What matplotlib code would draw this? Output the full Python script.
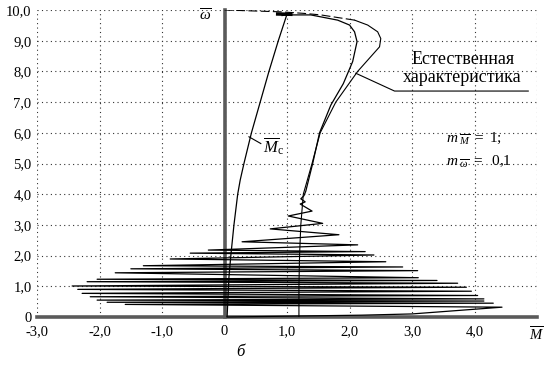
import matplotlib
matplotlib.use("Agg")
import matplotlib.pyplot as plt

plt.rcParams['font.family'] = 'serif'
plt.rcParams['font.serif'] = ['Liberation Serif', 'DejaVu Serif']
plt.rcParams['mathtext.fontset'] = 'custom'
plt.rcParams['mathtext.rm'] = 'Liberation Serif'
plt.rcParams['mathtext.it'] = 'Liberation Serif:italic'

# ---- data (M - torque, w - speed) ----
# load characteristic M_c
mc_M = [0.04, 0.07, 0.10, 0.15, 0.21, 0.25, 0.31, 0.43, 0.57, 0.71, 0.86, 1.00]
mc_w = [0.0, 1.3, 2.0, 3.0, 4.0, 4.46, 5.0, 6.0, 7.0, 8.0, 9.0, 9.87]

# natural (static) characteristic
nat_M = [1.19, 1.19, 1.20, 1.22, 1.26, 1.40, 1.53, 1.78, 2.13, 2.48, 2.50, 2.45, 2.29, 2.08]
nat_w = [0.0, 1.0, 2.0, 3.0, 4.0, 5.0, 6.0, 7.0, 8.0, 8.80, 9.07, 9.29, 9.51, 9.67]
# upper (dashed) part of natural characteristic
nat_top_M = [2.08, 1.54, 1.27, 0.90, 0.0]
nat_top_w = [9.67, 9.84, 9.89, 9.94, 10.0]

# dynamic characteristic: start-up oscillations, then rise to the working point
dyn_M = [0.04, 2.2, 3.0, 4.44, -1.59, 4.30, -1.88, 4.15, -2.04, 4.15, -2.15, 4.05,
         -2.28, 3.95, -2.35, 3.87, -2.44, 3.73, -2.20, 3.40, -2.04, 3.10, -1.75,
         3.09, -1.50, 2.85, -1.30, 2.58, -0.87, 2.39, -0.55, 2.25, -0.26, 2.13,
         0.28, 1.83, 0.73, 1.57, 1.02, 1.40, 1.21, 1.29,
         1.22, 1.27, 1.30, 1.41, 1.52, 1.70, 1.90, 2.05, 2.12, 2.08, 2.00, 1.81,
         1.38, 1.00, 0.92]
dyn_w = [0.0, 0.06, 0.10, 0.32, 0.41, 0.45, 0.48, 0.52, 0.55, 0.59, 0.66, 0.70,
         0.77, 0.84, 0.90, 0.97, 1.01, 1.10, 1.15, 1.19, 1.23, 1.28, 1.44,
         1.51, 1.57, 1.63, 1.67, 1.80, 1.89, 2.02, 2.08, 2.13, 2.18, 2.35,
         2.45, 2.68, 2.87, 3.05, 3.29, 3.45, 3.68, 3.75,
         3.85, 3.95, 4.10, 5.0, 6.0, 6.9, 7.6, 8.32, 8.97, 9.29, 9.51, 9.67,
         9.84, 9.84, 9.82]

# working point
wp_M = [0.85, 1.06]
wp_w = [9.87, 9.86]

x_ticks = [-3, -2, -1, 0, 1, 2, 3, 4, 5]
x_tick_labels = ['-3,0', '-2,0', '-1,0', '0', '1,0', '2,0', '3,0', '4,0', r'$\overline{M}$']
y_ticks = [0, 1, 2, 3, 4, 5, 6, 7, 8, 9, 10]
y_tick_labels = ['0', '1,0', '2,0', '3,0', '4,0', '5,0', '6,0', '7,0', '8,0', '9,0', '10,0']

fig = plt.figure(figsize=(5.46, 3.65), dpi=100)
ax = fig.add_axes([0.068, 0.1315, 0.9155, 0.8411])
ax.set_xlim(-3, 5)
ax.set_ylim(0, 10)

# dotted grid
for x in x_ticks:
    ax.axvline(x, color='#333333', lw=0.8, ls=(0, (1, 3)), zorder=1)
for y in y_ticks:
    ax.axhline(y, color='#333333', lw=0.8, ls=(0, (1, 3)), zorder=1)

# thick axes
ax.plot([0, 0], [0, 10], color='#5a5a5a', lw=2.6, zorder=2, clip_on=False)
ax.plot([-3, 5], [0, 0], color='#5a5a5a', lw=2.6, zorder=2, clip_on=False)

# curves
ax.plot(mc_M, mc_w, color='black', lw=0.9, zorder=3)
ax.plot(nat_M, nat_w, color='black', lw=0.8, zorder=3)
ax.plot(nat_top_M, nat_top_w, color='black', lw=0.8, ls=(0, (8, 3)), zorder=3)
ax.plot(dyn_M, dyn_w, color='black', lw=0.9, zorder=4, clip_on=False)
ax.plot(wp_M, wp_w, color='black', lw=2.5, zorder=5)

# annotations
ax.plot([2.10, 2.72, 4.86], [7.94, 7.36, 7.36], color='black', lw=0.8, zorder=3)
ax.text(3.82, 8.4, 'Естественная', ha='center', va='center', fontsize=13)
ax.text(3.80, 7.8, 'характеристика', ha='center', va='center', fontsize=13)

ax.plot([0.39, 0.58], [5.87, 5.65], color='black', lw=0.8, zorder=3)
ax.text(0.62, 5.55, r'$\overline{M}_{\mathrm{с}}$', ha='left', va='center', fontsize=12)

ax.text(3.55, 5.83, r'$m_{\ \overline{M}}\ =\ 1;$', ha='left', va='center', fontsize=11)
ax.text(3.55, 5.05, r'$m_{\ \overline{\omega}}\ =\ \ 0{,}1$', ha='left', va='center', fontsize=11)

ax.text(-0.3, 9.8, r'$\overline{\omega}$', ha='center', va='center', fontsize=11)
ax.text(0.26, -1.15, 'б', ha='center', va='center', fontsize=12, fontstyle='italic', clip_on=False)

ax.set_xticks(x_ticks)
ax.set_xticklabels(x_tick_labels)
ax.set_yticks(y_ticks)
ax.set_yticklabels(y_tick_labels)
ax.tick_params(length=0, labelsize=10.5)
ax.tick_params(axis='x', pad=6)
ax.tick_params(axis='y', pad=4)
for s in ax.spines.values():
    s.set_visible(False)

fig.savefig('out.png', dpi=100)
